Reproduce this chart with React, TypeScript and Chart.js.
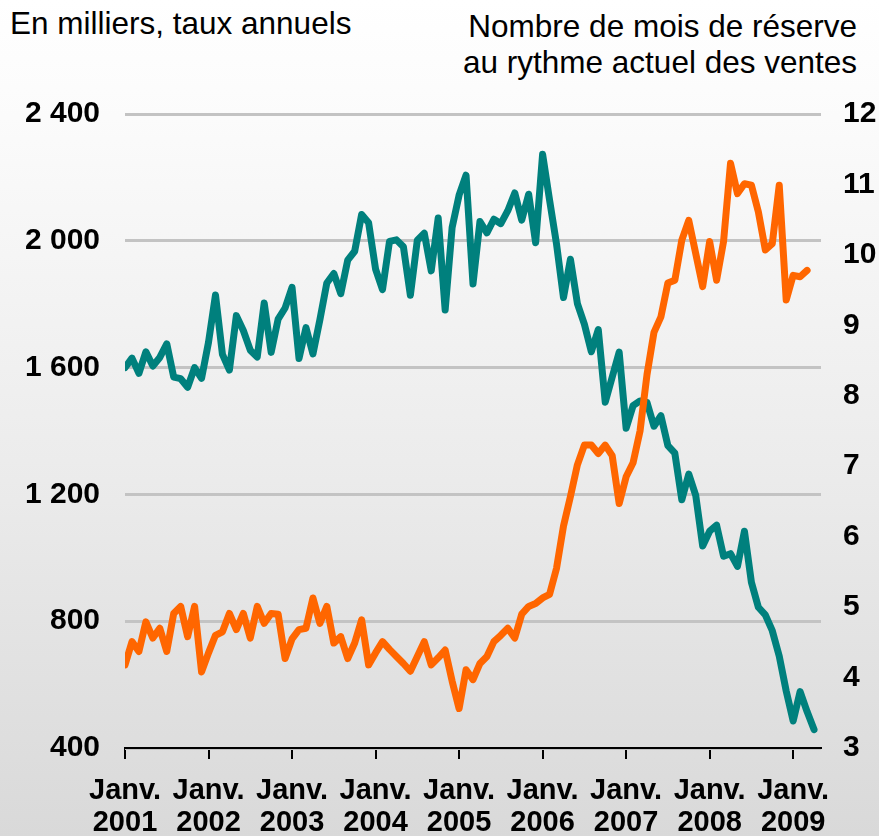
import React, { useEffect, useRef } from 'react';
import { Chart, registerables } from 'chart.js';

Chart.register(...registerables);

// Month index 0 = janv. 2001
const yearLabels = ['2001', '2002', '2003', '2004', '2005', '2006', '2007', '2008', '2009'];

// Mises en chantier, en milliers, taux annuels (axe de gauche)
const startsValues = [
  1600, 1630, 1582, 1650, 1605, 1632, 1675, 1570, 1565, 1538, 1600, 1566,
  1680, 1829, 1642, 1592, 1764, 1717, 1655, 1633, 1804, 1648, 1753, 1788,
  1853, 1629, 1726, 1643, 1751, 1867, 1897, 1833, 1939, 1967, 2083, 2057,
  1911, 1846, 1998, 2003, 1981, 1828, 2002, 2024, 1905, 2072, 1782, 2042,
  2144, 2207, 1864, 2061, 2025, 2068, 2054, 2095, 2151, 2065, 2147, 1994,
  2273, 2129, 1990, 1821, 1942, 1802, 1737, 1650, 1720, 1491, 1570, 1649,
  1409, 1480, 1495, 1490, 1415, 1448, 1354, 1330, 1183, 1264, 1197, 1037,
  1084, 1103, 1005, 1013, 973, 1084, 923, 844, 820, 770, 690, 580,
  485, 578, 515, 458,
];

// Nombre de mois de réserve au rythme actuel des ventes (axe de droite)
const supplyValues = [
  4.18, 4.51, 4.37, 4.79, 4.56, 4.70, 4.37, 4.91, 5.01, 4.58, 5.01, 4.08,
  4.35, 4.60, 4.65, 4.91, 4.68, 4.91, 4.56, 5.01, 4.77, 4.91, 4.90, 4.27,
  4.55, 4.68, 4.70, 5.13, 4.77, 5.01, 4.49, 4.58, 4.27, 4.49, 4.82, 4.18,
  4.35, 4.51, 4.40, 4.30, 4.20, 4.09, 4.30, 4.51, 4.18, 4.28, 4.39, 3.95,
  3.56, 4.11, 3.97, 4.20, 4.30, 4.51, 4.60, 4.70, 4.56, 4.90, 5.01, 5.05,
  5.13, 5.18, 5.55, 6.15, 6.57, 7.02, 7.30, 7.30, 7.18, 7.30, 7.15, 6.47,
  6.85, 7.05, 7.50, 8.30, 8.90, 9.12, 9.60, 9.64, 10.21, 10.49, 10.02, 9.55,
  10.19, 9.64, 10.19, 11.30, 10.87, 11.01, 10.99, 10.61, 10.07, 10.16, 10.99, 9.36,
  9.71, 9.69, 9.78,
];

const leftTicks = [400, 800, 1200, 1600, 2000, 2400];
const leftTickLabels = ['400', '800', '1 200', '1 600', '2 000', '2 400'];
const rightTicks = [3, 4, 5, 6, 7, 8, 9, 10, 11, 12];
const xTickLabelPrefix = 'Janv.';

const fontFamily = "'Liberation Sans Narrow', 'Arial Narrow', 'Liberation Sans', Arial, sans-serif";

const tickFont = {
  family: fontFamily,
  weight: 'bold' as const,
  size: 30,
  lineHeight: 1.07,
};

const xTickFont = {
  family: fontFamily,
  weight: 'bold' as const,
  size: 29,
  lineHeight: 1.1,
};

export default function App() {
  const ref = useRef<HTMLCanvasElement>(null);

  useEffect(() => {
    if (!ref.current) return;
    const chart = new Chart(ref.current, {
      type: 'line',
      data: {
        datasets: [
          {
            label: 'Nombre de mois de réserve',
            data: supplyValues.map((v, i) => ({ x: i, y: v })),
            yAxisID: 'y2',
            borderColor: '#ff6600',
            backgroundColor: '#ff6600',
            borderWidth: 7,
            pointRadius: 0,
            tension: 0,
            borderJoinStyle: 'round',
            borderCapStyle: 'round',
          },
          {
            label: 'En milliers, taux annuels',
            data: startsValues.map((v, i) => ({ x: i, y: v })),
            yAxisID: 'y',
            borderColor: '#00807d',
            backgroundColor: '#00807d',
            borderWidth: 7,
            pointRadius: 0,
            tension: 0,
            borderJoinStyle: 'round',
            borderCapStyle: 'round',
          },
        ],
      },
      options: {
        animation: false,
        responsive: false,
        devicePixelRatio: 1,
        layout: { padding: { top: 114, left: 0, right: 0, bottom: 0 } },
        plugins: { legend: { display: false }, tooltip: { enabled: false } },
        scales: {
          x: {
            type: 'linear',
            min: 0,
            max: 100,
            afterBuildTicks: (s: any) => {
              s.ticks = yearLabels.map((_, k) => ({ value: k * 12 }));
            },
            afterFit: (s: any) => {
              s.height = 88;
            },
            grid: {
              drawOnChartArea: false,
              drawTicks: true,
              tickLength: 11,
              color: '#000',
              lineWidth: 2,
            },
            border: { display: true, color: '#000', width: 2 },
            ticks: {
              autoSkip: false,
              maxRotation: 0,
              padding: 16,
              color: '#000',
              font: xTickFont,
              callback: (v: any) => [xTickLabelPrefix, yearLabels[Math.round(Number(v) / 12)]],
            },
          },
          y: {
            position: 'left',
            min: 400,
            max: 2400,
            afterBuildTicks: (s: any) => {
              s.ticks = leftTicks.map((v) => ({ value: v }));
            },
            afterFit: (s: any) => {
              s.width = 125;
            },
            grid: { color: '#c3c3c3', lineWidth: 3, drawTicks: false },
            border: { display: false },
            ticks: {
              padding: 25,
              color: '#000',
              font: tickFont,
              callback: (v: any) => leftTickLabels[leftTicks.indexOf(Number(v))],
            },
          },
          y2: {
            position: 'right',
            min: 3,
            max: 12,
            afterBuildTicks: (s: any) => {
              s.ticks = rightTicks.map((v) => ({ value: v }));
            },
            afterFit: (s: any) => {
              s.width = 58;
            },
            grid: { display: false, drawTicks: false },
            border: { display: false },
            ticks: {
              padding: 22,
              color: '#000',
              font: tickFont,
              callback: (v: any) => String(v),
            },
          },
        },
      },
    });
    return () => chart.destroy();
  }, []);

  const titleFont = "'Liberation Sans', Arial, sans-serif";

  return (
    <div
      style={{
        position: 'absolute',
        left: 0,
        top: 0,
        width: 879,
        height: 836,
        overflow: 'hidden',
        background: 'linear-gradient(180deg, #ffffff 0%, #fbfbfb 14%, #ececec 55%, #d9d9d9 100%)',
      }}
    >
      <div
        style={{
          position: 'absolute',
          left: 10,
          top: 5,
          fontFamily: titleFont,
          fontSize: 31.5,
          lineHeight: '36px',
          color: '#000',
          whiteSpace: 'nowrap',
        }}
      >
        En milliers, taux annuels
      </div>
      <div
        style={{
          position: 'absolute',
          right: 879 - 857,
          top: 8,
          fontFamily: titleFont,
          fontSize: 31.5,
          lineHeight: '36px',
          color: '#000',
          textAlign: 'right',
          whiteSpace: 'nowrap',
        }}
      >
        Nombre de mois de réserve
        <br />
        au rythme actuel des ventes
      </div>
      <canvas
        ref={ref}
        width={879}
        height={836}
        style={{ position: 'absolute', left: 0, top: 0, width: 879, height: 836 }}
      />
    </div>
  );
}
